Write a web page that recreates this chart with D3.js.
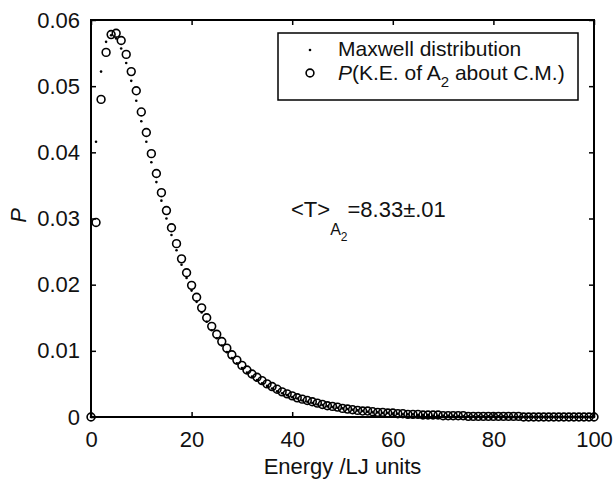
<!DOCTYPE html>
<html>
<head>
<meta charset="utf-8">
<script src="https://cdn.jsdelivr.net/npm/d3@7"></script>
<style>
  html, body { margin: 0; padding: 0; background: #fff; }
  svg { display: block; font-family: "Liberation Sans", Arial, Helvetica, sans-serif; }
</style>
</head>
<body>
<svg id="chart" width="613" height="479"></svg>
<script>
// Energy grid (LJ units), one bin per unit
const energy = d3.range(0, 101);

// Simulated probability of the A2 kinetic energy about the centre of mass
const simulatedP = [
  0, 0.0294, 0.0480, 0.0551, 0.0578, 0.0580, 0.0569, 0.0548, 0.0522, 0.0493,
  0.0461, 0.0430, 0.0398, 0.0368, 0.0339, 0.0312, 0.0286, 0.0262, 0.0239, 0.0218,
  0.0199, 0.0181, 0.0165, 0.0150, 0.0137, 0.0125, 0.0114, 0.0104, 0.0094, 0.0086,
  0.0078, 0.0071, 0.0065, 0.0060, 0.0055, 0.0050, 0.0046, 0.0042, 0.0038, 0.0035,
  0.0032, 0.0029, 0.0027, 0.0025, 0.0023, 0.0021, 0.0019, 0.0017, 0.0016, 0.0015,
  0.0013, 0.0012, 0.0011, 0.0010, 0.0009, 0.0009, 0.0008, 0.0007, 0.0007, 0.0006,
  0.0006, 0.0005, 0.0005, 0.0004, 0.0004, 0.0004, 0.0003, 0.0003, 0.0003, 0.0003,
  0.0002, 0.0002, 0.0002, 0.0002, 0.0002, 0.0001, 0.0001, 0.0001, 0.0001, 0.0001,
  0.0001, 0.0001, 0.0001, 0.0001, 0.0001, 0.0001, 0, 0, 0, 0,
  0, 0, 0, 0, 0, 0, 0, 0, 0, 0,
  0
];

// Reference Maxwell distribution on the same grid
const maxwellP = [
  0, 0.0416, 0.0522, 0.0567, 0.0577, 0.0572, 0.0557, 0.0535, 0.0508, 0.0478,
  0.0447, 0.0416, 0.0385, 0.0355, 0.0327, 0.0300, 0.0275, 0.0252, 0.0230, 0.0210,
  0.0191, 0.0174, 0.0158, 0.0144, 0.0131, 0.0119, 0.0108, 0.0098, 0.0089, 0.0081,
  0.0074, 0.0067, 0.0061, 0.0056, 0.0051, 0.0047, 0.0043, 0.0039, 0.0036, 0.0033,
  0.0030, 0.0028, 0.0025, 0.0023, 0.0021, 0.0019, 0.0018, 0.0016, 0.0015, 0.0014,
  0.0013, 0.0012, 0.0011, 0.0010, 0.0009, 0.0008, 0.0007, 0.0007, 0.0006, 0.0006,
  0.0005, 0.0005, 0.0004, 0.0004, 0.0004, 0.0003, 0.0003, 0.0003, 0.0002, 0.0002,
  0.0002, 0.0002, 0.0002, 0.0001, 0.0001, 0.0001, 0.0001, 0.0001, 0.0001, 0.0001,
  0.0001, 0.0001, 0.0001, 0, 0, 0, 0, 0, 0, 0,
  0, 0, 0, 0, 0, 0, 0, 0, 0, 0,
  0
];

const xTicks = [0, 20, 40, 60, 80, 100];
const yTicks = [0, 0.01, 0.02, 0.03, 0.04, 0.05, 0.06];

const svg = d3.select("#chart");
const plotLeft = 91, plotRight = 594, plotTop = 20, plotBottom = 417;
const fontSize = 22;
const legendFont = 21;

const x = d3.scaleLinear().domain([0, 100]).range([plotLeft, plotRight]);
const y = d3.scaleLinear().domain([0, 0.06]).range([plotBottom, plotTop]);

const tickLen = 5;
const axisColor = "#000";

// Inward ticks on all four sides
function styleAxis(g) {
  g.select(".domain").remove();
  g.selectAll(".tick line").attr("stroke", axisColor).attr("stroke-width", 1.5);
  g.selectAll(".tick text")
    .attr("fill", "#111")
    .style("font-size", fontSize + "px");
}

svg.append("g")
  .attr("transform", `translate(0,${plotBottom})`)
  .call(d3.axisBottom(x).tickValues(xTicks).tickSize(-tickLen).tickPadding(14)
    .tickFormat(d3.format("d")))
  .call(styleAxis);

svg.append("g")
  .attr("transform", `translate(0,${plotTop})`)
  .call(d3.axisTop(x).tickValues(xTicks).tickSize(-tickLen).tickFormat(""))
  .call(styleAxis);

svg.append("g")
  .attr("transform", `translate(${plotLeft},0)`)
  .call(d3.axisLeft(y).tickValues(yTicks).tickSize(-tickLen).tickPadding(11)
    .tickFormat(d => d === 0 ? "0" : d3.format(".2f")(d)))
  .call(styleAxis);

svg.append("g")
  .attr("transform", `translate(${plotRight},0)`)
  .call(d3.axisRight(y).tickValues(yTicks).tickSize(-tickLen).tickFormat(""))
  .call(styleAxis);

// Frame
svg.append("rect")
  .attr("x", plotLeft).attr("y", plotTop)
  .attr("width", plotRight - plotLeft).attr("height", plotBottom - plotTop)
  .attr("fill", "none").attr("stroke", axisColor).attr("stroke-width", 2);

// Simulated distribution: open circles
svg.append("g")
  .selectAll("circle")
  .data(energy)
  .join("circle")
  .attr("cx", d => x(d))
  .attr("cy", (d, i) => y(simulatedP[i]))
  .attr("r", 3.9)
  .attr("fill", "none")
  .attr("stroke", "#000")
  .attr("stroke-width", 1.6);

// Maxwell distribution: small dots
svg.append("g")
  .selectAll("circle")
  .data(energy)
  .join("circle")
  .attr("cx", d => x(d))
  .attr("cy", (d, i) => y(maxwellP[i]))
  .attr("r", 1.3)
  .attr("fill", "#000");

// Axis titles
svg.append("text")
  .attr("x", (plotLeft + plotRight) / 2).attr("y", 474)
  .attr("text-anchor", "middle")
  .style("font-size", fontSize + "px").attr("fill", "#111")
  .text("Energy /LJ units");

svg.append("text")
  .attr("transform", `translate(26,${(plotTop + plotBottom) / 2 - 3}) rotate(-90)`)
  .attr("text-anchor", "middle")
  .style("font-size", fontSize + "px").style("font-style", "italic").attr("fill", "#111")
  .text("P");

// Mean kinetic energy annotation
const note = svg.append("text")
  .attr("x", 291).attr("y", 217)
  .style("font-size", fontSize + "px").attr("fill", "#111");
note.append("tspan").text("<T>");
note.append("tspan").attr("dy", 18).style("font-size", "16px").text("A");
note.append("tspan").attr("dy", 6).style("font-size", "12px").text("2");
note.append("tspan").attr("dy", -24).text("=8.33\u00B1.01");

// Legend
const legend = svg.append("g");
legend.append("rect")
  .attr("x", 278).attr("y", 33).attr("width", 300).attr("height", 67)
  .attr("fill", "#fff").attr("stroke", "#000").attr("stroke-width", 1.5);

legend.append("circle")
  .attr("cx", 310).attr("cy", 50).attr("r", 1.3).attr("fill", "#000");
legend.append("circle")
  .attr("cx", 310).attr("cy", 73).attr("r", 3.9)
  .attr("fill", "none").attr("stroke", "#000").attr("stroke-width", 1.6);

legend.append("text")
  .attr("x", 338).attr("y", 56)
  .style("font-size", legendFont + "px").attr("fill", "#111")
  .text("Maxwell distribution");

const l2 = legend.append("text")
  .attr("x", 338).attr("y", 80)
  .style("font-size", legendFont + "px").attr("fill", "#111");
l2.append("tspan").style("font-style", "italic").text("P");
l2.append("tspan").text("(K.E. of A");
l2.append("tspan").attr("dy", 7).style("font-size", "15px").text("2");
l2.append("tspan").attr("dy", -7).text(" about C.M.)");
</script>
</body>
</html>
